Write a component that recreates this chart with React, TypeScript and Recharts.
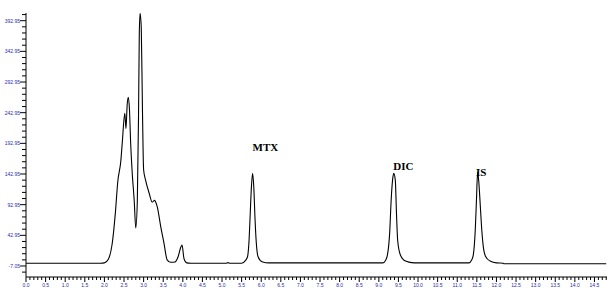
import { LineChart, Line, XAxis, YAxis, ReferenceDot } from "recharts";

// retention time (min) and detector response
const times = [
  0.0, 1.9, 2.0, 2.1, 2.2, 2.28, 2.34, 2.42, 2.46, 2.52, 2.55, 2.58, 2.61, 2.64,
  2.67, 2.71, 2.76, 2.8, 2.84, 2.87, 2.89, 2.91, 2.94, 2.97, 3.0, 3.05, 3.14,
  3.22, 3.28, 3.31, 3.35, 3.44, 3.52, 3.6, 3.69, 3.8, 3.88, 3.95, 3.98, 4.03,
  4.1, 4.2, 5.1, 5.15, 5.2, 5.5, 5.6, 5.65, 5.69, 5.72, 5.75, 5.78, 5.81, 5.84,
  5.87, 5.92, 6.02, 6.2, 9.1, 9.17, 9.22, 9.28, 9.31, 9.35, 9.38, 9.42, 9.45,
  9.48, 9.55, 9.68, 9.9, 11.3, 11.37, 11.41, 11.46, 11.49, 11.52, 11.55, 11.58,
  11.62, 11.66, 11.72, 11.84, 12.0, 12.17, 12.2, 14.8,
];
const signal = [
  -2.5, -2.5, -2, 4, 30, 80, 130, 165, 198, 242, 217, 255, 268, 247, 193, 144,
  100, 55, 100, 235, 372, 405, 382, 250, 150, 133, 112, 97, 100, 97, 89, 56, 30,
  3, -1, -0.5, 8, 24, 27, 5, -2, -2.5, -2.5, -1.5, -2.5, -2.5, 2, 8, 35, 79, 122,
  144, 122, 73, 35, 8, 0, -2, -2, 2, 11, 51, 95, 133, 144, 133, 79, 35, 11, 1, -2,
  -2, 3, 11, 52, 100, 146, 130, 100, 57, 27, 9, 1, -2, -2.5, -3.5, -3.5,
];

const peakNames = ["MTX", "DIC", "IS"];
const peakLabelTimes = [5.78, 9.37, 11.48];
const peakLabelValues = [186.5, 156.5, 146.7];

const yMajorLabels = ["-7.05", "42.95", "92.95", "142.95", "192.95", "242.95", "292.95", "342.95", "392.95"];
const xMajorLabels = [
  "0.0", "0.5", "1.0", "1.5", "2.0", "2.5", "3.0", "3.5", "4.0", "4.5", "5.0",
  "5.5", "6.0", "6.5", "7.0", "7.5", "8.0", "8.5", "9.0", "9.5", "10.0", "10.5",
  "11.0", "11.5", "12.0", "12.5", "13.0", "13.5", "14.0", "14.5",
];

const data = times.map((t, i) => ({ t, v: signal[i] }));

// minor ticks every 10 units / 0.1 min, majors carry the labels
const yTicks: number[] = [];
for (let k = -1; k <= 41; k++) yTicks.push(Number((-7.05 + k * 10).toFixed(2)));
const xTicks: number[] = [];
for (let k = 0; k <= 148; k++) xTicks.push(Number((k / 10).toFixed(1)));

const tickColor = "#2a2ab0";

function YTick(props: any) {
  const { x, y, payload } = props;
  const label = payload.value.toFixed(2);
  const major = yMajorLabels.includes(label);
  return (
    <g>
      <line x1={x - (major ? 6 : 4)} x2={x} y1={y} y2={y} stroke="#000" />
      {major && (
        <text
          x={x - 6}
          y={y}
          dy={2}
          textAnchor="end"
          fontSize={5}
          fill={tickColor}
          fontFamily="Liberation Sans"
        >
          {label}
        </text>
      )}
    </g>
  );
}

function XTick(props: any) {
  const { x, y, payload } = props;
  const label = payload.value.toFixed(1);
  const major = xMajorLabels.includes(label);
  return (
    <g>
      <line x1={x} x2={x} y1={y} y2={y + (major ? 5 : 3)} stroke="#000" />
      {major && (
        <text
          x={x}
          y={y + 10}
          textAnchor="middle"
          fontSize={5}
          fill={tickColor}
          fontFamily="Liberation Sans"
        >
          {label}
        </text>
      )}
    </g>
  );
}

export default function App() {
  return (
    <div style={{ position: "fixed", left: 0, top: 0, width: 613, height: 297, background: "#fff" }}>
      <LineChart width={613} height={297} data={data} margin={{ top: 13, right: 6, bottom: 0, left: 0 }}>
        <XAxis
          dataKey="t"
          type="number"
          domain={[0, 14.82]}
          ticks={xTicks}
          interval={0}
          tick={<XTick />}
          tickLine={false}
          tickSize={0}
          tickMargin={0}
          height={20}
          stroke="#000"
          allowDecimals
        />
        <YAxis
          type="number"
          domain={[-25, 405.5]}
          ticks={yTicks}
          interval={0}
          tick={<YTick />}
          tickLine={false}
          tickSize={0}
          tickMargin={0}
          width={26}
          stroke="#000"
          allowDataOverflow
        />
        <Line
          type="monotoneX"
          dataKey="v"
          stroke="#000"
          strokeWidth={1.1}
          dot={false}
          isAnimationActive={false}
        />
        {peakNames.map((name, i) => (
          <ReferenceDot
            key={name}
            x={peakLabelTimes[i]}
            y={peakLabelValues[i]}
            r={0}
            ifOverflow="visible"
            shape={(p: any) => (
              <text
                x={p.cx}
                y={p.cy}
                dy={4}
                fontFamily="Liberation Serif"
                fontWeight="bold"
                fontSize={11}
                fill="#000"
              >
                {name}
              </text>
            )}
          />
        ))}
      </LineChart>
    </div>
  );
}
